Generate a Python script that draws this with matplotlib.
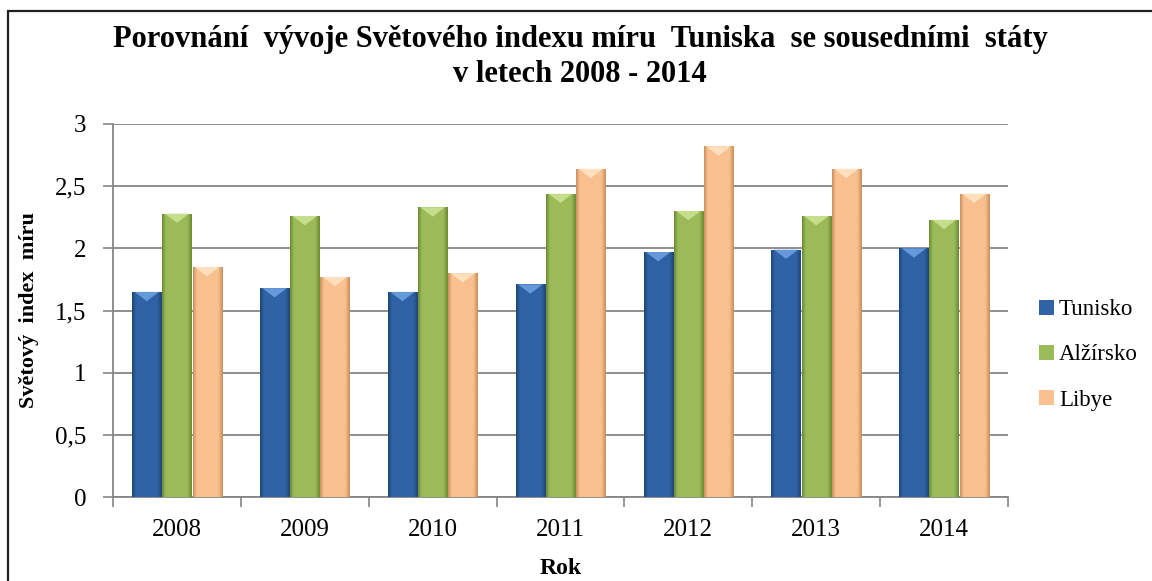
import matplotlib
matplotlib.use("Agg")
import matplotlib.pyplot as plt
import numpy as np
from matplotlib.patches import Rectangle, Polygon
from matplotlib.colors import LinearSegmentedColormap

years = ["2008", "2009", "2010", "2011", "2012", "2013", "2014"]
tunisko = [1.65, 1.68, 1.65, 1.71, 1.97, 1.99, 2.00]
alzirsko = [2.28, 2.26, 2.33, 2.44, 2.30, 2.26, 2.23]
libye = [1.85, 1.77, 1.80, 2.64, 2.82, 2.64, 2.44]
series_names = ["Tunisko", "Alžírsko", "Libye"]

plt.rcParams['font.family'] = ['Liberation Serif', 'DejaVu Serif']

W, H = 1152, 581
fig = plt.figure(figsize=(W / 100, H / 100), dpi=100)
ax = fig.add_axes([113 / W, 1 - 497 / H, (1008 - 113) / W, (497 - 124) / H])

# outer frame (right and bottom edges lie outside the image)
fig.patches.append(Rectangle((8 / W, -0.05), 1.2, 1 - 11 / H + 0.05,
                             transform=fig.transFigure, fill=False,
                             edgecolor='#202020', linewidth=1.6))

# (dark edge, main, light top)
palettes = [
    ("#1E4679", "#2F63A5", "#6FA3E3"),
    ("#6C8A33", "#9BBB59", "#CDE596"),
    ("#C98F5C", "#FAC08F", "#FFE6C8"),
]
x = np.arange(len(years))
bw = 0.228
step = 0.236
data = [tunisko, alzirsko, libye]
handles = []
for i, (vals, pal) in enumerate(zip(data, palettes)):
    offs = (i - 1) * step
    cmap = LinearSegmentedColormap.from_list(
        "g", [(0, pal[0]), (0.12, pal[1]), (0.45, pal[1]), (0.85, pal[1]), (1, pal[0])])
    bars = ax.bar(x + offs, vals, width=bw, color=pal[1], edgecolor='none',
                  label=series_names[i], zorder=3)
    handles.append(bars)
    grad = np.linspace(0, 1, 64).reshape(1, -1)
    for b in bars:
        bx, by = b.get_x(), b.get_y()
        bwid, bh = b.get_width(), b.get_height()
        im = ax.imshow(grad, cmap=cmap, aspect='auto', zorder=3.5,
                       extent=(bx, bx + bwid, by, by + bh), interpolation='bilinear')
        im.set_clip_path(b)
        top = by + bh
        ax.add_patch(Polygon([(bx + bwid * 0.08, top), (bx + bwid * 0.92, top),
                              (bx + bwid * 0.5, top - 0.075)],
                             closed=True, facecolor=pal[2], edgecolor='none',
                             alpha=0.85, zorder=3.6))

ax.set_xlim(-0.5, len(years) - 0.5)
ax.set_ylim(0, 3)
ax.set_yticks([0, 0.5, 1, 1.5, 2, 2.5, 3])
ax.set_yticklabels(["0", "0,5", "1", "1,5", "2", "2,5", "3"], fontsize=18)
ax.set_xticks(x)
ax.set_xticklabels(years, fontsize=18)
ax.set_xticks(np.arange(-0.5, len(years), 1), minor=True)
ax.tick_params(axis='x', which='major', length=0, pad=16)
ax.tick_params(axis='x', which='minor', length=7, color='#868686', width=1.2)
ax.tick_params(axis='y', length=7, color='#868686', width=1.2, pad=12)
ax.grid(axis='y', color='#868686', linewidth=1.3, zorder=0)
ax.set_axisbelow(True)
for s in ['top', 'right']:
    ax.spines[s].set_visible(False)
for s in ['left', 'bottom']:
    ax.spines[s].set_color('#868686')
    ax.spines[s].set_linewidth(1.3)

ax.set_xlabel("Rok", fontsize=17, fontweight='bold', labelpad=12)
ax.set_ylabel("Světový  index  míru", fontsize=16, fontweight='bold', labelpad=12)

fig.text(580 / W, 1 - 40 / H, "Porovnání  vývoje Světového indexu míru  Tuniska  se sousedními  státy",
         ha='center', va='center', fontsize=22, fontweight='bold')
fig.text(580 / W, 1 - 75 / H, "v letech 2008 - 2014",
         ha='center', va='center', fontsize=22, fontweight='bold')

leg = fig.legend(handles=[h.patches[0] for h in handles], labels=series_names,
                 loc='center left', bbox_to_anchor=(1028 / W, 1 - 355 / H),
                 frameon=False, fontsize=16.5, handlelength=0.65, handleheight=0.65,
                 handletextpad=0.2, labelspacing=1.05, borderpad=0)

fig.savefig("out.png", dpi=100)
